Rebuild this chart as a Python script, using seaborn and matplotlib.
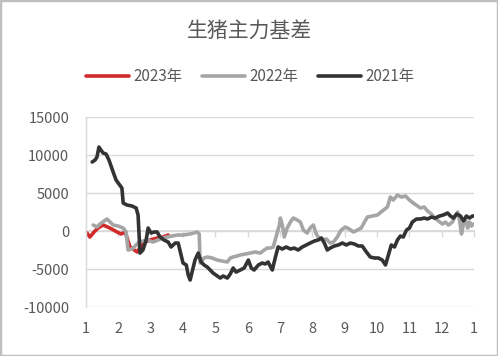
import pandas as pd
import matplotlib.pyplot as plt
import seaborn as sns
from matplotlib.patches import Rectangle

# month position (1 = Jan, 13 = next Jan) and basis values
m_2023 = [1.03, 1.12, 1.25, 1.37, 1.53, 1.74, 1.96, 2.08, 2.21, 2.36, 2.58, 2.76, 2.98, 3.20, 3.38, 3.54]
v_2023 = [-260, -790, -130, 390, 790, 390, -130, -390, -130, -2100, -2760, -1580, -1180, -920, -790, -530]

m_2022 = [1.22, 1.34, 1.43, 1.56, 1.65, 1.84, 1.99, 2.15, 2.24, 2.30, 2.42, 2.52, 2.61, 2.76, 2.89,
          3.07, 3.23, 3.38, 3.51, 3.66, 3.82, 4.00, 4.22, 4.44, 4.50, 4.53, 4.65, 4.75, 4.90, 5.06,
          5.21, 5.37, 5.46, 5.55, 5.67, 5.77, 5.92, 6.08, 6.23, 6.39, 6.51, 6.60, 6.70, 6.79, 6.85,
          6.91, 6.98, 7.01, 7.07, 7.13, 7.22, 7.32, 7.41, 7.53, 7.63, 7.72, 7.84, 7.93, 8.03, 8.12,
          8.18, 8.31, 8.43, 8.55, 8.65, 8.77, 8.89, 9.02, 9.14, 9.27, 9.39, 9.51, 9.61, 9.70, 9.85,
          10.01, 10.16, 10.32, 10.41, 10.50, 10.63, 10.75, 10.88, 11.00, 11.12, 11.25, 11.34, 11.46,
          11.56, 11.68, 11.77, 11.90, 12.02, 12.11, 12.21, 12.33, 12.42, 12.49, 12.55, 12.61, 12.67,
          12.73, 12.80, 12.86, 12.92, 12.98]
v_2022 = [790, 530, 920, 1320, 1580, 790, 660, 390, -130, -2500, -2370, -1970, -1580, -1320, -1180,
          -1450, -1180, -920, -790, -660, -530, -530, -390, -130, -390, -4210, -3550, -3420, -3550, -3820,
          -3950, -4080, -3550, -3420, -3290, -3160, -3030, -2900, -2760, -2900, -2500, -2240, -2240, -2100, -1180,
          -260, 790, 1710, 790, -790, 390, 1180, 1710, 1450, 1180, 130, -260, 390, 790, -390,
          -790, -1180, -1050, -1580, -1450, -790, 130, 530, 260, -130, 130, 390, 1180, 1840, 1970,
          2110, 2630, 3160, 4470, 4080, 4740, 4470, 4610, 4080, 3680, 3290, 3030, 3160,
          2630, 2240, 1710, 1320, 920, 1180, 790, 1180, 1970, 2500, 1450, -390, 920,
          1580, 390, 1180, 660, 920]

m_2021 = [1.19, 1.28, 1.34, 1.40, 1.46, 1.53, 1.62, 1.71, 1.84, 1.93, 2.02, 2.11, 2.15, 2.27, 2.42,
          2.55, 2.61, 2.67, 2.76, 2.86, 2.92, 3.01, 3.11, 3.20, 3.29, 3.41, 3.54, 3.63, 3.76, 3.85,
          3.94, 4.00, 4.10, 4.16, 4.22, 4.31, 4.37, 4.47, 4.56, 4.65, 4.75, 4.84, 4.93, 5.06, 5.15,
          5.24, 5.37, 5.46, 5.55, 5.64, 5.77, 5.89, 6.02, 6.11, 6.20, 6.33, 6.45, 6.54, 6.63, 6.76,
          6.85, 6.94, 7.07, 7.19, 7.32, 7.44, 7.56, 7.69, 7.81, 7.93, 8.06, 8.18, 8.28, 8.37, 8.46,
          8.55, 8.68, 8.80, 8.93, 9.05, 9.17, 9.30, 9.42, 9.54, 9.67, 9.79, 9.92, 10.04, 10.16, 10.26,
          10.35, 10.44, 10.54, 10.63, 10.72, 10.81, 10.91, 11.00, 11.09, 11.22, 11.34, 11.46, 11.56,
          11.68, 11.80, 11.93, 12.05, 12.18, 12.27, 12.36, 12.46, 12.58, 12.67, 12.76, 12.86, 12.95, 13.01]
v_2021 = [9080, 9340, 9740, 11050, 10660, 10260, 10130, 9340, 7760, 6710, 6180, 5660, 3680, 3420, 3290,
          3030, 2110, -2900, -2500, -1180, 390, -260, -130, -130, -790, -1180, -1450, -2100, -1580, -1580,
          -3160, -4210, -4470, -5790, -6450, -4870, -3820, -2900, -4080, -4470, -4740, -5130, -5530, -5920, -6190,
          -5920, -6190, -5660, -4870, -5400, -5130, -4870, -3820, -4870, -5130, -4470, -4210, -4340, -4080, -5130,
          -3550, -2100, -2370, -2100, -2370, -2240, -2500, -2100, -1840, -1580, -1320, -1180, -920, -1580, -2500,
          -2240, -1970, -1840, -1580, -1840, -1580, -1710, -1970, -1970, -2760, -3420, -3550, -3550, -3820, -4470,
          -3160, -1840, -2100, -1180, -660, -790, 130, 390, 1180, 1580, 1580, 1710, 1580,
          1840, 1710, 1970, 2110, 2370, 1970, 1710, 2240, 1970, 1320, 1970, 1710, 1970, 1970]

years = ['2023年', '2022年', '2021年']
colors = ['#d22b2b', '#a5a5a5', '#333333']
month_ticks = list(range(1, 14))
month_labels = [str(i) for i in range(1, 13)] + ['1']
y_ticks = [-10000, -5000, 0, 5000, 10000, 15000]

df = pd.concat([
    pd.DataFrame({'month': m_2023, 'basis': v_2023, 'year': years[0]}),
    pd.DataFrame({'month': m_2022, 'basis': v_2022, 'year': years[1]}),
    pd.DataFrame({'month': m_2021, 'basis': v_2021, 'year': years[2]}),
])

sns.set_theme(style='white')
plt.rcParams['font.family'] = ['Noto Sans CJK SC', 'DejaVu Sans']
plt.rcParams['axes.unicode_minus'] = False

fig = plt.figure(figsize=(4.98, 3.56), dpi=100)
ax = fig.add_axes([0.1727, 0.1376, 0.7793, 0.5337])

sns.lineplot(data=df, x='month', y='basis', hue='year', hue_order=years,
             palette=dict(zip(years, colors)), estimator=None, sort=False,
             linewidth=2.6, solid_joinstyle='round', solid_capstyle='round', ax=ax)

ax.set_xlim(1, 13)
ax.set_ylim(-10000, 15000)
ax.set_yticks(y_ticks)
ax.set_yticklabels([str(t) for t in y_ticks])
ax.set_xticks(month_ticks)
ax.set_xticklabels(month_labels)
ax.tick_params(axis='both', length=0, labelsize=10.5, colors='#595959')
ax.tick_params(axis='x', pad=11)
ax.tick_params(axis='y', pad=12)
ax.yaxis.grid(True, color='#d9d9d9', linewidth=1)
ax.set_xlabel('')
ax.set_ylabel('')
for s in ['top', 'right', 'bottom']:
    ax.spines[s].set_visible(False)
ax.spines['left'].set_color('#d9d9d9')
ax.spines['left'].set_linewidth(1)

# category axis line crossing at zero with small tick marks
zero_axis = ax.secondary_xaxis(0.4)
zero_axis.set_xticks(month_ticks)
zero_axis.set_xticklabels([])
zero_axis.tick_params(direction='out', length=4, color='#d9d9d9', width=1)
zero_axis.spines['bottom'].set_color('#d9d9d9')

ax.legend(loc='center', bbox_to_anchor=(0.5025, 0.785), bbox_transform=fig.transFigure,
          ncol=3, frameon=False, fontsize=11, handlelength=2.8, handletextpad=0.3,
          columnspacing=1.3, labelcolor='#595959')

fig.text(0.502, 0.91, '生猪主力基差', ha='center', va='center', fontsize=15, color='#595959')

fig.add_artist(Rectangle((0, 0), 1, 1, transform=fig.transFigure, fill=False,
                         edgecolor='#bfbfbf', linewidth=2.5))

fig.savefig('out.png', dpi=100)
